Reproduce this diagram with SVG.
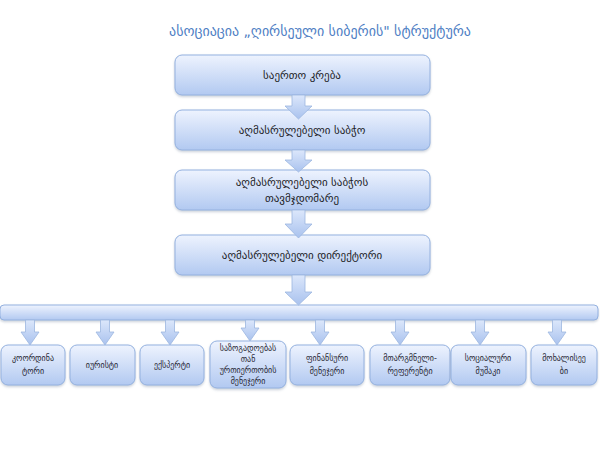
<svg xmlns="http://www.w3.org/2000/svg" width="600" height="450" viewBox="0 0 600 450">
<defs>
<linearGradient id="g" x1="0" y1="0" x2="0" y2="1">
<stop offset="0" stop-color="#eef3fe"/>
<stop offset="1" stop-color="#b2c9f1"/>
</linearGradient>
<linearGradient id="ga" x1="0" y1="0" x2="0" y2="1">
<stop offset="0" stop-color="#dce7fb"/>
<stop offset="1" stop-color="#a9c2ee"/>
</linearGradient>
<filter id="sh" x="-10%" y="-20%" width="120%" height="150%">
<feDropShadow dx="0" dy="1.5" stdDeviation="1.2" flood-color="#7a8aa0" flood-opacity="0.4"/>
</filter>
<style>
.box{fill:url(#g);stroke:#94b1df;stroke-width:1;filter:url(#sh)}
.arr{fill:url(#ga);stroke:#9cb6e0;stroke-width:0.8}
.t{font-family:"DejaVu Sans",sans-serif;font-size:11px;fill:#1e1e28;text-anchor:middle}
.s{font-family:"DejaVu Sans",sans-serif;font-size:8px;fill:#2a2a36;text-anchor:middle}
.title{font-family:"DejaVu Sans",sans-serif;font-size:14px;fill:#4f80c4;text-anchor:middle}
</style>
</defs>
<rect width="600" height="450" fill="#ffffff"/>
<text class="title" x="320" y="36">ასოციაცია „ღირსეული სიბერის" სტრუქტურა</text>

<g id="n1"><rect class="box" x="175" y="55" width="255" height="40" rx="7"/><text class="t" x="302" y="79">საერთო კრება</text></g>
<g id="n2"><rect class="box" x="175" y="110" width="255" height="40" rx="7"/><text class="t" x="302" y="134">აღმასრულებელი საბჭო</text></g>
<g id="n3"><rect class="box" x="175" y="170" width="255" height="40" rx="7"/><text class="t" x="302" y="186">აღმასრულებელი საბჭოს</text><text class="t" x="302" y="202">თავმჯდომარე</text></g>
<g id="n4"><rect class="box" x="175" y="235" width="255" height="40" rx="7"/><text class="t" x="302" y="259">აღმასრულებელი დირექტორი</text></g>
<g id="bar"><rect class="box" x="0" y="305" width="598" height="15" rx="4"/></g>

<g id="b1"><rect class="box" x="1" y="345" width="64" height="40" rx="7"/><text class="s" x="33" y="361">კოორდინა</text><text class="s" x="33" y="374">ტორი</text></g>
<g id="b2"><rect class="box" x="70" y="345" width="65" height="40" rx="7"/><text class="s" x="102" y="368">იურისტი</text></g>
<g id="b3"><rect class="box" x="140" y="345" width="64" height="40" rx="7"/><text class="s" x="172" y="368">ექსპერტი</text></g>
<g id="b4"><rect class="box" x="210" y="341" width="76" height="47" rx="7"/><text class="s" x="248" y="351">საზოგადოებას</text><text class="s" x="248" y="362">თან</text><text class="s" x="248" y="373">ურთიერთობის</text><text class="s" x="248" y="384">მენეჯერი</text></g>
<g id="b5"><rect class="box" x="290" y="345" width="74" height="40" rx="7"/><text class="s" x="327" y="361">ფინანსური</text><text class="s" x="327" y="374">მენეჯერი</text></g>
<g id="b6"><rect class="box" x="370" y="345" width="80" height="40" rx="7"/><text class="s" x="410" y="361">მთარგმნელი-</text><text class="s" x="410" y="374">რეფერენტი</text></g>
<g id="b7"><rect class="box" x="451" y="345" width="75" height="40" rx="7"/><text class="s" x="488" y="361">სოციალური</text><text class="s" x="488" y="374">მუშაკი</text></g>
<g id="b8"><rect class="box" x="531" y="345" width="66" height="40" rx="7"/><text class="s" x="564" y="361">მოხალისეე</text><text class="s" x="564" y="374">ბი</text></g>

<g id="connectors">
<polygon class="arr" points="292,95 305,95 305,106 312,106 298.5,119 285,106 292,106"/>
<polygon class="arr" points="292,150 305,150 305,160 312,160 298.5,172 285,160 292,160"/>
<polygon class="arr" points="292,210 305,210 305,224 312,224 298.5,238 285,224 292,224"/>
<polygon class="arr" points="292,275 305,275 305,292 312,292 298.5,305 285,292 292,292"/>
<polygon class="arr" points="25.5,320 34.5,320 34.5,332 39,332 30,345 21,332 25.5,332"/>
<polygon class="arr" points="100.5,320 109.5,320 109.5,332 114,332 105,345 96,332 100.5,332"/>
<polygon class="arr" points="165.5,320 174.5,320 174.5,332 179,332 170,345 161,332 165.5,332"/>
<polygon class="arr" points="245.5,320 254.5,320 254.5,328 259,328 250,341 241,328 245.5,328"/>
<polygon class="arr" points="315.5,320 324.5,320 324.5,332 329,332 320,345 311,332 315.5,332"/>
<polygon class="arr" points="395.5,320 404.5,320 404.5,332 409,332 400,345 391,332 395.5,332"/>
<polygon class="arr" points="475.5,320 484.5,320 484.5,332 489,332 480,345 471,332 475.5,332"/>
<polygon class="arr" points="552.5,320 561.5,320 561.5,332 566,332 557,345 548,332 552.5,332"/>
</g>
</svg>
